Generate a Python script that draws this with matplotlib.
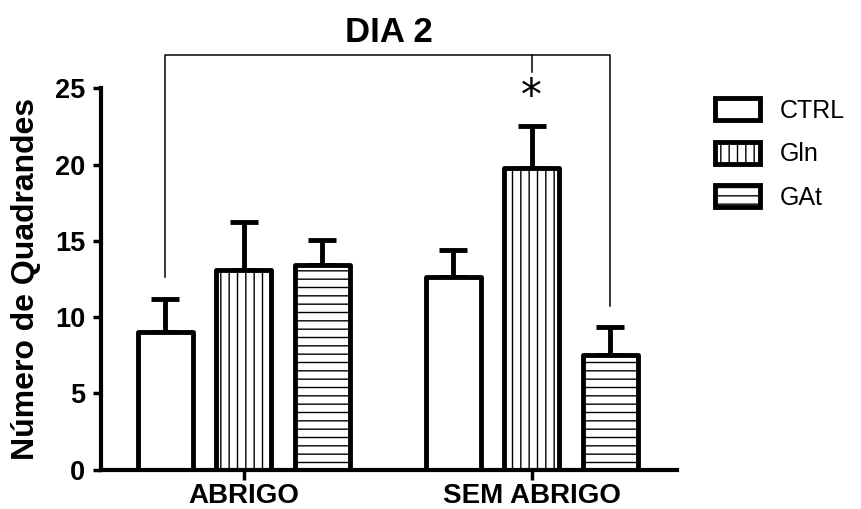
import matplotlib
matplotlib.use("Agg")
import matplotlib.pyplot as plt
from matplotlib.patches import Patch
import numpy as np

plt.rcParams['font.family'] = ['Liberation Sans', 'DejaVu Sans']
plt.rcParams['hatch.linewidth'] = 1.0

groups = ["ABRIGO", "SEM ABRIGO"]
series = ["CTRL", "Gln", "GAt"]
hatches = [None, "||", "--"]
means = {
    "CTRL": [9.0, 12.65],
    "Gln": [13.1, 19.75],
    "GAt": [13.4, 7.5],
}
errs = {
    "CTRL": [2.15, 1.75],
    "Gln": [3.15, 2.8],
    "GAt": [1.65, 1.85],
}

fig = plt.figure(figsize=(8.62, 5.09), dpi=100)
ax = fig.add_axes([0.1168, 0.0776, 0.6686, 0.7489])

xg = np.arange(len(groups))
step = 0.2726
width = 0.191
for i, s in enumerate(series):
    xs = xg + (i - 1) * step
    ax.errorbar(xs, means[s], yerr=[np.zeros(len(groups)), errs[s]], fmt='none',
                ecolor='black', elinewidth=3.5, capsize=10, capthick=3.5, zorder=1)
    bars = ax.bar(xs, means[s], width, facecolor='white', edgecolor='black',
                  linewidth=3.5, hatch=hatches[i], zorder=2)
    for b in bars:
        b.set_joinstyle('round')

ax.set_xlim(-0.496, 1.505)
ax.set_ylim(0, 25)
ax.set_yticks([0, 5, 10, 15, 20, 25])
ax.set_xticks(xg)
ax.set_xticklabels(groups)
for sp in ['top', 'right']:
    ax.spines[sp].set_visible(False)
for sp in ['left', 'bottom']:
    ax.spines[sp].set_linewidth(3)
    ax.spines[sp].set_capstyle('projecting')
ax.tick_params(axis='y', length=6, width=2.5, pad=5, labelsize=19.5)
ax.tick_params(axis='x', length=7, width=2.5, pad=3, labelsize=20)
for lab in ax.get_xticklabels() + ax.get_yticklabels():
    lab.set_fontweight('bold')

ax.set_ylabel("Número de Quadrandes", fontsize=23, fontweight='bold', labelpad=10)
ax.set_title("DIA 2", fontsize=25, fontweight='bold', pad=33)

# significance bracket: CTRL ABRIGO vs GAt SEM ABRIGO, star on Gln SEM ABRIGO
x_left = xg[0] - step
x_right = xg[1] + step
x_mid = xg[1]
y_top = 27.2
y_l = means["CTRL"][0] + errs["CTRL"][0] + 1.5
y_r = means["GAt"][1] + errs["GAt"][1] + 1.35
ax.plot([x_left, x_left, x_right, x_right], [y_l, y_top, y_top, y_r],
        color='black', linewidth=1.1, clip_on=False)
ax.plot([x_mid, x_mid], [y_top, 26.1], color='black', linewidth=1.1, clip_on=False)
ax.text(x_mid, 24.4, "*", fontsize=30, ha='center', va='center',
        family='DejaVu Sans', clip_on=False)

handles = [Patch(facecolor='white', edgecolor='black', linewidth=3.5, hatch=h,
                 joinstyle='round') for h in hatches]
fig.legend(handles, series, loc='upper left', bbox_to_anchor=(715 / 862, 1 - 98 / 509),
           frameon=False, fontsize=18, handlelength=1.8, handleheight=1.0,
           labelspacing=0.75, handletextpad=0.8, borderpad=0, borderaxespad=0)

fig.savefig("out.png", dpi=100)
